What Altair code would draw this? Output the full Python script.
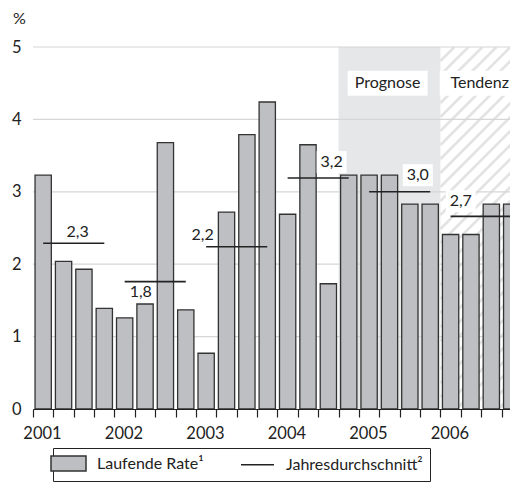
import json
import altair as alt
import pandas as pd

# ---------------- data ----------------
quarters = list(range(24))  # 2001Q1 .. 2006Q4
rates = [3.23, 2.04, 1.93, 1.39, 1.26, 1.45, 3.68, 1.37, 0.77, 2.72, 3.79, 4.24,
         2.69, 3.65, 1.73, 3.23, 3.23, 3.23, 2.83, 2.83, 2.41, 2.41, 2.83, 2.83]
year_labels = ["2001", "2002", "2003", "2004", "2005", "2006"]
avg_values = [2.29, 1.76, 2.24, 3.19, 3.00, 2.66]
avg_labels = ["2,3", "1,8", "2,2", "3,2", "3,0", "2,7"]
avg_label_x = [2.19, 5.29, 8.33, 14.66, 18.89, 21.0]
avg_label_y = [2.44, 1.61, 2.40, 3.41, 3.23, 2.87]
avg_label_boxed = [False, False, False, True, True, True]
region_names = ["Prognose", "Tendenz"]
region_start = [15, 20]
region_end = [20, 24]
region_label_x = [17.41, 21.93]
region_label_y = [4.5, 4.5]
legend_labels = ["Laufende Rate\u00b9", "Jahresdurchschnitt\u00b2"]

# ---------------- style ----------------
PX_PER_Q = 20.37
W, H = 477, 362
X_MAX, Y_MAX = W / PX_PER_Q, 5
BAR_FILL = "#bebfc3"
DARK = "#222222"
TEXT = "#222222"
SHADE = "#e6e7e9"
HATCH = "#e3e3e3"
GRID = "#d6d6d6"
FONT = "Lato"

xs = alt.Scale(domain=[0, X_MAX], nice=False, zero=False)
ys = alt.Scale(domain=[0, Y_MAX], nice=False, zero=False)

label_expr = "datum.value % 4 === 0 ? " + json.dumps(year_labels) + "[datum.value / 4] : ''"
x_axis = alt.Axis(values=[q for q in quarters if q <= X_MAX], grid=False, tickSize=8,
                  tickColor=DARK, tickWidth=1.2,
                  domainColor=DARK, domainWidth=1.2, labelExpr=label_expr, labelOffset=9,
                  labelFontSize=16.5, labelColor=TEXT, labelPadding=8, labelOverlap=False,
                  labelFlush=False, title=None)
y_axis = alt.Axis(values=[0, 1, 2, 3, 4, 5], grid=False, domain=False, ticks=False,
                  labelPadding=12, labelFontSize=16.5, labelColor=TEXT,
                  title="%", titleAngle=0, titleX=-14, titleY=-29, titleAlign="center",
                  titleBaseline="middle", titleFontWeight="normal", titleFontSize=16,
                  titleColor=TEXT)

def X(f):
    return alt.X(f, type="quantitative", scale=xs, axis=x_axis)

def Y(f):
    return alt.Y(f, type="quantitative", scale=ys, axis=y_axis)

# shaded forecast region
shade_df = pd.DataFrame({"x0": [region_start[0]], "x1": [region_end[0]], "y0": [0], "y1": [Y_MAX]})
shade = alt.Chart(shade_df).mark_rect(fill=SHADE).encode(
    x=X("x0"), x2="x1", y=Y("y0"), y2="y1")

# hatching of the trend region (decoration)
px_x = W / X_MAX
px_y = H / Y_MAX
k = px_y / px_x
step = 14 / px_x
xa, xb = region_start[1], region_end[1]
segs = []
c = xa - Y_MAX * k
while c < xb:
    ylo = max(0.0, (xa - c) / k)
    yhi = min(float(Y_MAX), (xb - c) / k)
    if yhi > ylo:
        segs.append({"hx0": c + k * ylo, "hy0": ylo, "hx1": c + k * yhi, "hy1": yhi})
    c += step
hatch = alt.Chart(pd.DataFrame(segs)).mark_rule(color=HATCH, strokeWidth=2.6, clip=True).encode(
    x=X("hx0"), x2="hx1", y=Y("hy0"), y2="hy1")

# grid
grid_df = pd.DataFrame({"g": [1, 2, 3, 4, 5], "gx0": 0, "gx1": X_MAX})
grid = alt.Chart(grid_df).mark_rule(color=GRID, strokeWidth=1.2).encode(
    x=X("gx0"), x2="gx1", y=Y("g"))

# bars
bar_df = pd.DataFrame({"q": quarters, "rate": rates})
bar_df["b0"] = bar_df["q"] + 0.1
bar_df["b1"] = bar_df["q"] + 0.9
bar_df["zero"] = 0
bars = alt.Chart(bar_df).mark_rect(fill=BAR_FILL, stroke="#333333", strokeWidth=1.3, clip=True).encode(
    x=X("b0"), x2="b1", y=Y("rate"), y2="zero")

# annual averages
avg_df = pd.DataFrame({"yr": range(len(avg_values)), "avg": avg_values})
avg_df["a0"] = avg_df["yr"] * 4 + 0.5
avg_df["a1"] = avg_df["yr"] * 4 + 3.5
avg_rules = alt.Chart(avg_df).mark_rule(color=DARK, strokeWidth=1.6, clip=True).encode(
    x=X("a0"), x2="a1", y=Y("avg"))

lab_df = pd.DataFrame({"lx": avg_label_x, "ly": avg_label_y, "lt": avg_labels, "boxed": avg_label_boxed})
num_boxes = alt.Chart(lab_df[lab_df["boxed"]]).mark_point(
    shape="M-1,-0.733H1V0.733H-1Z", size=900, filled=True, fill="white", opacity=1,
    strokeWidth=0).encode(x=X("lx"), y=Y("ly"))
num_text = alt.Chart(lab_df).mark_text(fontSize=16, color=TEXT, font=FONT).encode(
    x=X("lx"), y=Y("ly"), text="lt:N")

reg_df = pd.DataFrame({"rx": region_label_x, "ry": region_label_y, "rt": region_names})
reg_boxes = alt.Chart(reg_df).mark_point(
    shape="M-1,-0.3125H1V0.3125H-1Z", size=6400, filled=True, fill="white", opacity=1,
    strokeWidth=0, clip=True).encode(x=X("rx"), y=Y("ry"))
reg_text = alt.Chart(reg_df).mark_text(fontSize=16, color=TEXT, font=FONT).encode(
    x=X("rx"), y=Y("ry"), text="rt:N")

# legend (built from fill/stroke/shape scales of an empty layer)
leg = alt.Legend(title=None, orient="none", legendX=20, legendY=401, direction="horizontal",
                 symbolSize=225, symbolStrokeWidth=1.5,
                 labelFontSize=16, labelColor=TEXT, labelFont=FONT, labelOffset=20,
                 columnPadding=34, padding=7, strokeColor=DARK, fillColor="white",
                 labelLimit=400, symbolOpacity=1)
leg_df = pd.DataFrame({"key": legend_labels})
legend_layer = alt.Chart(leg_df).mark_point(strokeWidth=1.5).encode(
    fill=alt.Fill("key:N", scale=alt.Scale(domain=legend_labels, range=[BAR_FILL, "transparent"]), legend=leg),
    stroke=alt.Stroke("key:N", scale=alt.Scale(domain=legend_labels, range=["#333333", DARK]), legend=leg),
    shape=alt.Shape("key:N", scale=alt.Scale(domain=legend_labels,
                                             range=["M-2.333,-1H2.333V1H-2.333Z", "M-2.2,0H2.2"]), legend=leg),
).transform_filter("false")

chart = alt.layer(shade, hatch, grid, bars, avg_rules, num_boxes, num_text, reg_boxes, reg_text,
                  legend_layer).properties(
    width=W, height=H,
    padding={"left": 25, "top": 39, "right": 0, "bottom": 75},
    autosize=alt.AutoSizeParams(type="none"),
).configure(font=FONT).configure_view(stroke=None)

chart.save("out.html", embed_options={"renderer": "svg", "actions": False})
